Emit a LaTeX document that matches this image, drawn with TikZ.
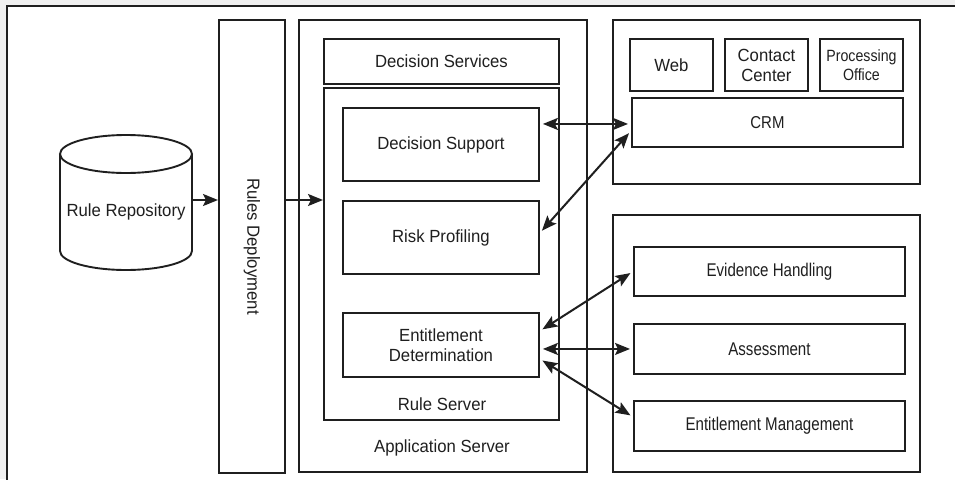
\documentclass[tikz,border=0pt]{standalone}
\usepackage{fontspec}
\setmainfont{Liberation Sans}[FakeStretch=0.95]
\newfontfamily\narrowfont{Liberation Sans}[FakeStretch=0.82]
\newfontfamily\semifont{Liberation Sans}[FakeStretch=0.87]
\usetikzlibrary{arrows.meta,calc}

\definecolor{ink}{HTML}{1F1F1F}
\definecolor{backdrop}{HTML}{F0F0F0}

\tikzset{
  box/.style={draw=ink, line width=1.9pt, inner sep=0pt, align=center,
              anchor=north west, text=ink,
              font=\fontsize{17.6}{20}\selectfont},
  lowbox/.style={box, font=\narrowfont\fontsize{18.4}{20}\selectfont},
  label/.style={text=ink, inner sep=0pt, font=\fontsize{17.6}{20}\selectfont},
  arr/.style={draw=ink, line width=2pt, -{Stealth[length=15pt,width=12pt,inset=3pt]}},
  biarr/.style={draw=ink, line width=2pt,
                {Stealth[length=15pt,width=12pt,inset=3pt]}-{Stealth[length=15pt,width=12pt,inset=3pt]},
                shorten <=3pt, shorten >=3pt},
}

\begin{document}
\begin{tikzpicture}[x=1pt, y=-1pt]
  \useasboundingbox (0,0) rectangle (955,479);

  % page backdrop and white panel
  \fill[backdrop] (0,0) rectangle (955,479);
  \draw[ink, line width=1.5pt, fill=white] (7,6) rectangle (975,500);

  % rule repository (cylinder)
  \draw[ink, line width=1.9pt]
    (60,154) -- (60,251)
    arc[start angle=180, end angle=360, x radius=66pt, y radius=19pt]
    -- (192,154);
  \draw[ink, line width=1.9pt] (126,154) ellipse [x radius=66pt, y radius=19pt];
  \node[inner sep=0pt, minimum width=132pt, text=ink,
        font=\fontsize{17.6}{20}\selectfont] (repo) at (126,212) {Rule Repository};

  % rules deployment column
  \node[box, minimum width=66pt, minimum height=453pt] (deploy) at (218,19) {};
  \node[label, rotate=-90] (deploytext) at (deploy.center) {Rules Deployment};

  % application server
  \node[box, minimum width=288pt, minimum height=452pt] (app) at (298,19) {};
  \node[label] (applabel) at (442,448) {Application Server};
  \node[box, minimum width=235pt, minimum height=45pt] (dsvc) at (323,38) {Decision Services};
  \node[box, minimum width=235pt, minimum height=332pt] (rsrv) at (323,87) {};
  \node[label] (rsrvlabel) at (442,404) {Rule Server};
  \node[box, minimum width=196pt, minimum height=73pt] (dsup) at (342,107) {Decision Support};
  \node[box, minimum width=196pt, minimum height=73pt] (risk) at (342,200) {Risk Profiling};
  \node[box, minimum width=196pt, minimum height=64pt] (ent) at (342,312) {Entitlement\\Determination};

  % channels
  \node[box, minimum width=307pt, minimum height=164pt] (chan) at (612,19) {};
  \node[box, minimum width=83pt, minimum height=52pt] (web) at (629,38) {Web};
  \node[box, minimum width=83pt, minimum height=52pt] (cc) at (724,38) {Contact\\Center};
  \node[box, minimum width=83pt, minimum height=52pt,
        font=\semifont\fontsize{16.3}{18.5}\selectfont] (po) at (819,38) {Processing\\Office};
  \node[box, minimum width=271pt, minimum height=49pt,
        font=\semifont\fontsize{17.2}{20}\selectfont] (crm) at (631,97) {CRM};

  % back-office systems
  \node[box, minimum width=307pt, minimum height=257pt] (back) at (612,214) {};
  \node[lowbox, minimum width=271pt, minimum height=49pt] (evid) at (633,246) {Evidence Handling};
  \node[lowbox, minimum width=271pt, minimum height=50pt] (asmt) at (633,323) {Assessment};
  \node[lowbox, minimum width=271pt, minimum height=50pt] (emgt) at (633,400) {Entitlement Management};

  % deployment flow
  \coordinate (flow) at ($(repo.east)+(0,12pt)$);
  \draw[arr] (flow) -- (flow -| deploy.west);
  \draw[arr] (flow -| deploy.east) -- (flow -| rsrv.west);

  % rule service connections
  \draw[biarr] ([yshift=-1.5pt]crm.west -| dsup.east) -- ([yshift=-1.5pt]crm.west);
  \draw[biarr] ([yshift=4.5pt]risk.east) -- ([yshift=-8.5pt]crm.west);
  \draw[biarr] ([yshift=14pt]ent.east) -- (evid.west);
  \draw[biarr] (asmt.west -| ent.east) -- (asmt.west);
  \draw[biarr] ([yshift=-14pt]ent.east) -- ([yshift=9pt]emgt.west);
\end{tikzpicture}
\end{document}
